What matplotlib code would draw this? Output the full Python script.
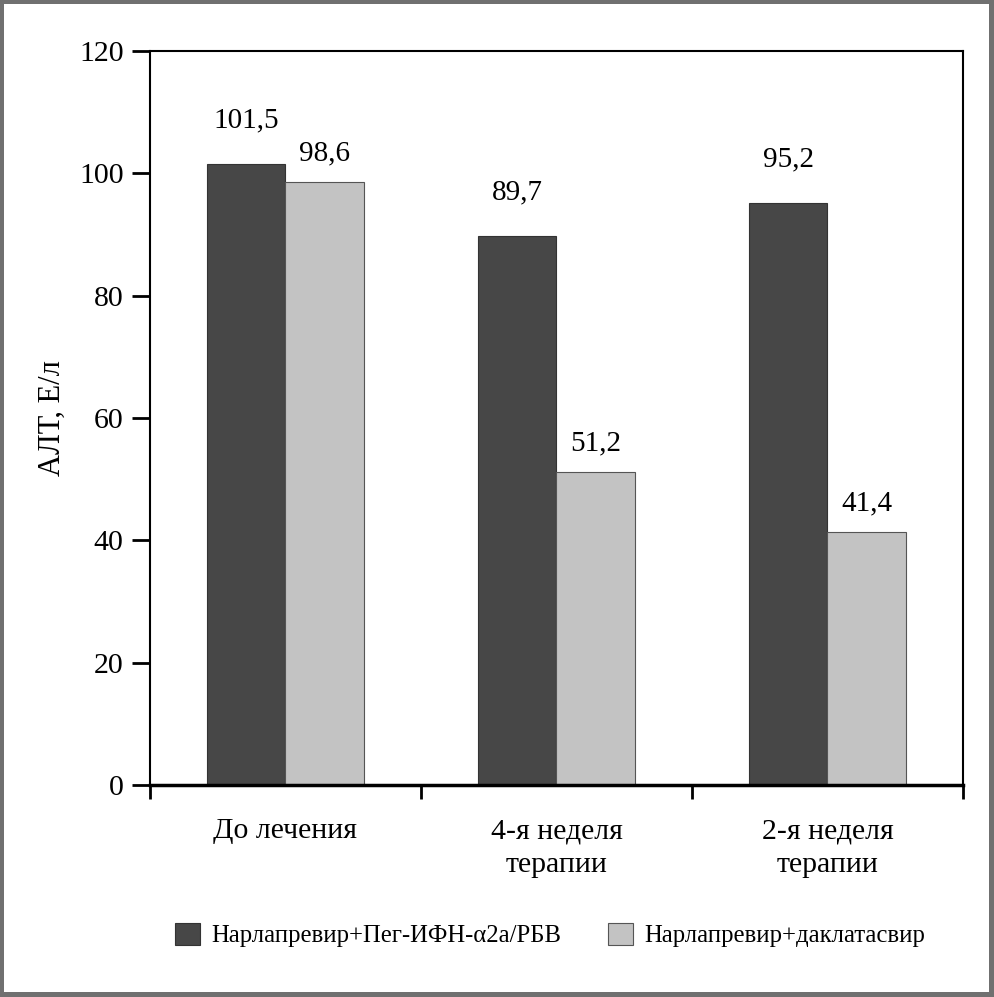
import numpy as np
import matplotlib.pyplot as plt
from matplotlib.patches import Rectangle

plt.rcParams['font.family'] = ['Liberation Serif', 'DejaVu Serif']

# data
categories = ['До лечения', '4-я неделя\nтерапии', '2-я неделя\nтерапии']
series_names = ['Нарлапревир+Пег-ИФН-α2а/РБВ', 'Нарлапревир+даклатасвир']
peg_ifn = [101.5, 89.7, 95.2]
dakla = [98.6, 51.2, 41.4]
value_labels_1 = ['101,5', '89,7', '95,2']
value_labels_2 = ['98,6', '51,2', '41,4']
yticks = [0, 20, 40, 60, 80, 100, 120]

fig = plt.figure(figsize=(9.95, 9.97), dpi=100)
fig.patch.set_facecolor('#707070')
# white page inside the gray frame
W, H = 995, 997
fig.add_artist(Rectangle((4 / W, 5 / H), (989 - 4) / W, (993 - 5) / H,
                         transform=fig.transFigure, facecolor='white',
                         edgecolor='none', zorder=0))

ax = fig.add_axes([150 / W, 1 - 785 / H, (963 - 150) / W, (785 - 51) / H])
ax.set_facecolor('white')

x = np.arange(len(categories))
bw = 0.29
b1 = ax.bar(x - bw / 2, peg_ifn, bw, color='#474747', edgecolor='#333333', linewidth=0.8)
b2 = ax.bar(x + bw / 2, dakla, bw, color='#c3c3c3', edgecolor='#555555', linewidth=0.8)

for rect, lab in zip(b1, value_labels_1):
    ax.text(rect.get_x() + rect.get_width() / 2, rect.get_height() + 5, lab,
            ha='center', va='bottom', fontsize=21)
for rect, lab in zip(b2, value_labels_2):
    ax.text(rect.get_x() + rect.get_width() / 2, rect.get_height() + 2.5, lab,
            ha='center', va='bottom', fontsize=21)

ax.set_xlim(-0.5, 2.5)
ax.set_ylim(0, 120)
ax.set_yticks(yticks)
ax.set_yticklabels([str(t) for t in yticks], fontsize=21.5)
ax.tick_params(axis='y', direction='out', length=13, width=2, pad=6)

# x ticks at category boundaries, labels at centres
ax.set_xticks([-0.5, 0.5, 1.5, 2.5])
ax.set_xticklabels([])
ax.tick_params(axis='x', direction='out', length=10, width=2)
ax.set_xticks(x, minor=True)
ax.set_xticklabels(categories, minor=True, fontsize=21.5, linespacing=1.4)
ax.tick_params(axis='x', which='minor', length=0, pad=24)

for s in ['left', 'right', 'top']:
    ax.spines[s].set_linewidth(1.5)
ax.spines['bottom'].set_linewidth(2.5)

ax.set_ylabel('АЛТ, Е/л', fontsize=22, labelpad=9)

fig.legend([b1, b2], series_names, loc='center', bbox_to_anchor=(0.553, 1 - 935 / H),
           ncol=2, frameon=False, fontsize=17.8, handlelength=1.0, handleheight=1.0,
           columnspacing=1.9, handletextpad=0.45)

fig.savefig('out.png', dpi=100, facecolor=fig.get_facecolor())
